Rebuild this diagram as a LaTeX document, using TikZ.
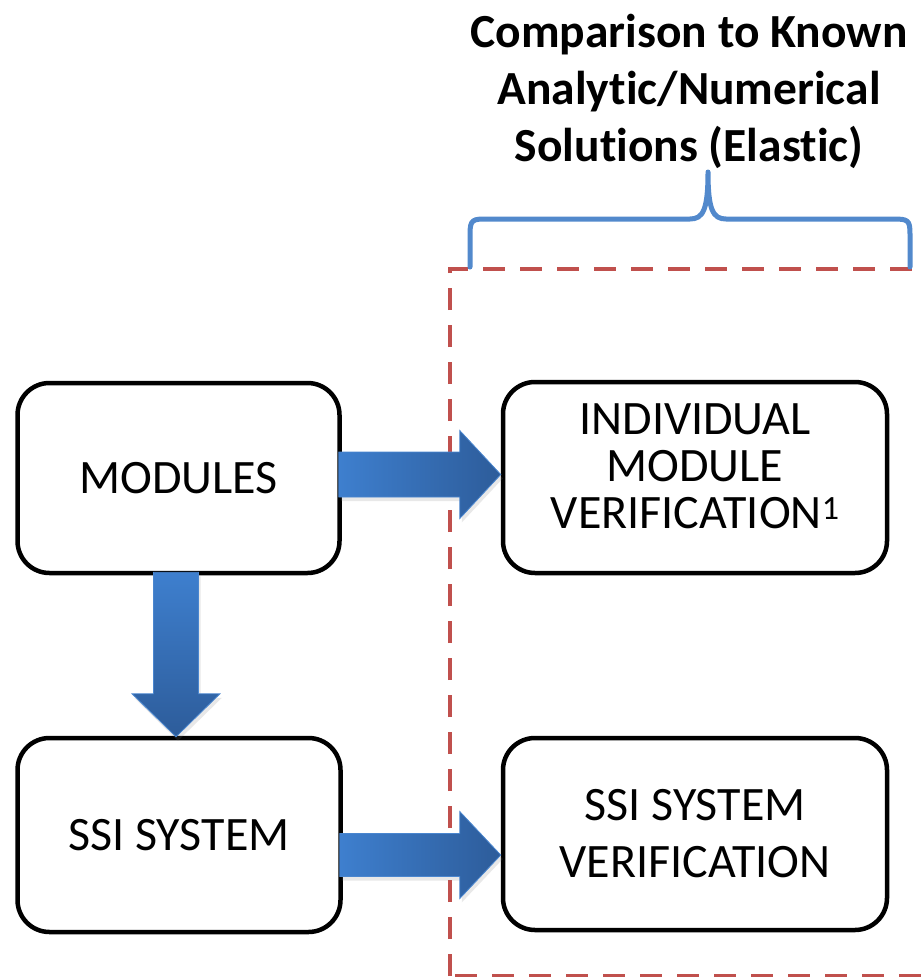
\documentclass[tikz,border=0pt]{standalone}
\usepackage{fontspec}
\setmainfont[Ligatures={NoCommon}]{Carlito}
\usetikzlibrary{calc,shadows}
\definecolor{dashred}{HTML}{C0504D}
\definecolor{bracebl}{HTML}{5289CC}
\definecolor{arrlight}{HTML}{3E7FCE}
\definecolor{arrdark}{HTML}{2D5C9A}
\definecolor{arredge}{HTML}{4A86CF}
\newcommand\blockR[5]{\path[blockh] let \p1=#1, \p2=#2 in
  (\x1,\y2+#3) -- (\x2-#5,\y2+#3) -- (\x2-#5,\y2+#4) -- (\x2,\y2) --
  (\x2-#5,\y2-#4) -- (\x2-#5,\y2-#3) -- (\x1,\y2-#3) -- cycle;}
\newcommand\blockD[5]{\path[blockv] let \p1=#1, \p2=#2 in
  (\x2-#3,\y1) -- (\x2-#3,\y2+#5) -- (\x2-#4,\y2+#5) -- (\x2,\y2) --
  (\x2+#4,\y2+#5) -- (\x2+#3,\y2+#5) -- (\x2+#3,\y1) -- cycle;}
\newcommand\supone{\raisebox{9pt}{\fontsize{34}{34}\selectfont 1}}
\begin{document}
\begin{tikzpicture}[x=1pt,y=-1pt,
  box/.style={draw=black, line width=4.5pt, rounded corners=32pt, fill=white,
    align=center, inner sep=0pt, font=\fontsize{48}{46}\selectfont},
  blockh/.style={draw=arredge, line width=0.8pt, left color=arrlight, right color=arrdark,
    drop shadow={opacity=0.18, shadow xshift=2pt, shadow yshift=-4pt}},
  blockv/.style={draw=arredge, line width=0.8pt, top color=arrlight, bottom color=arrdark,
    drop shadow={opacity=0.18, shadow xshift=2pt, shadow yshift=-4pt}},
  dashline/.style={draw=dashred, line width=4pt, dash pattern=on 22pt off 15pt},
  bracepath/.style={draw=bracebl, line width=5pt, line cap=round, line join=round},
  title/.style={align=center, inner sep=0pt, font=\bfseries\fontsize{47.5}{57}\selectfont}
]
\useasboundingbox (0,0) rectangle (921,977);
% dashed frame
\draw[dashline] (450,976) -- (450,269) -- (960,269);
\draw[dashline] (455,976) -- (960,976);
% brace
\draw[bracepath] (470,267) -- (470,234) .. controls (470,219) and (473,219) .. (488,219)
  -- (690,219) .. controls (703,219) and (708,210) .. (708,172)
  .. controls (708,210) and (713,219) .. (726,219)
  -- (893,219) .. controls (908,219) and (910,220) .. (910,234) -- (910,267);
% title
\node[title, anchor=north] (ttl) at (689,14) {Comparison to Known\\Analytic/Numerical\\Solutions (Elastic)};
% boxes
\node[box, minimum width=322pt, minimum height=190pt] (mod) at (178.5,478) {MODULES};
\node[box, minimum width=384pt, minimum height=191pt, font=\fontsize{48}{47}\selectfont] (imv) at (695,477.5)
  {\raisebox{5pt}[\height][\depth]{\begin{tabular}{@{}c@{}}INDIVIDUAL\\MODULE\\VERIFICATION\supone\end{tabular}}};
\node[box, minimum width=323pt, minimum height=194pt] (ssi) at (179,835) {SSI SYSTEM};
\node[box, minimum width=384pt, minimum height=192pt, font=\fontsize{48}{57}\selectfont] (ssv) at (695,834)
  {SSI SYSTEM\\VERIFICATION};
% block arrows
\blockR{($(mod.east)+(-3,-3)$)}{($(imv.west)+(0,-3)$)}{22.5pt}{44pt}{41pt}
\blockR{($(ssi.east)+(-3,20)$)}{($(ssv.west)+(0,21)$)}{21.5pt}{43.5pt}{41pt}
\blockD{($(mod.south)+(-3,-3)$)}{($(ssi.north)+(-3,1)$)}{22.5pt}{44pt}{43pt}
\end{tikzpicture}
\end{document}
